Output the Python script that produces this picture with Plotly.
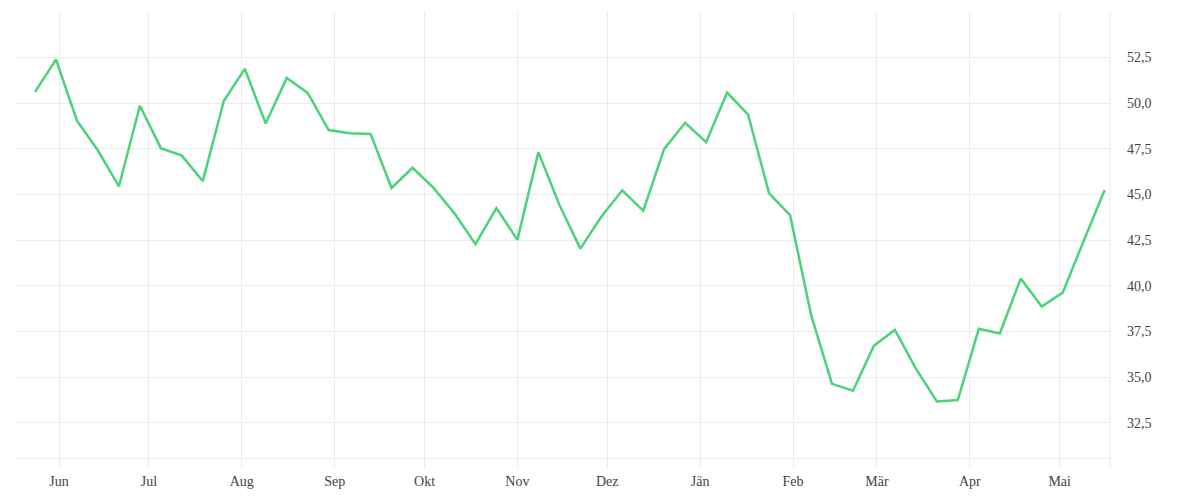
import pandas as pd
import plotly.graph_objects as go

# weekly values, late May to mid May of the following year
dates = pd.date_range("2022-05-24", periods=52, freq="7D")
values = [50.62, 52.39, 49.04, 47.41, 45.45, 49.86, 47.54, 47.13, 45.73, 50.12,
          51.88, 48.89, 51.38, 50.56, 48.53, 48.36, 48.31, 45.36, 46.46, 45.36,
          43.97, 42.28, 44.26, 42.52, 47.32, 44.44, 42.04, 43.78, 45.23, 44.11,
          47.50, 48.93, 47.87, 50.58, 49.37, 45.07, 43.87, 38.43, 34.64, 34.26,
          36.73, 37.59, 35.47, 33.67, 33.75, 37.65, 37.39, 40.40, 38.87, 39.63,
          42.46, 45.25]

# month ticks (Austrian German)
month_ticks = pd.date_range("2022-06-01", periods=12, freq="MS")
month_labels = ["Jun", "Jul", "Aug", "Sep", "Okt", "Nov", "Dez", "Jän",
                "Feb", "Mär", "Apr", "Mai"]

grid = "#ececec"

fig = go.Figure()
fig.add_trace(go.Scatter(x=dates, y=values, mode="lines",
                         line=dict(color="#4cd27b", width=2.5),
                         hoverinfo="x+y"))

fig.update_layout(
    margin=dict(l=7, r=82, t=4, b=34),
    paper_bgcolor="white", plot_bgcolor="white",
    separators=",.",
    showlegend=False,
    font=dict(family="Liberation Serif", size=14, color="#444"),
    shapes=[dict(type="line", xref="paper", yref="paper", x0=1, x1=1,
                 y0=-0.023, y1=1, line=dict(color=grid, width=1))],
)
fig.update_xaxes(
    range=["2022-05-17 07:30", "2023-05-17 19:00"],
    tickvals=month_ticks, ticktext=month_labels,
    showgrid=True, gridcolor=grid, gridwidth=1,
    ticks="outside", ticklen=10, tickcolor=grid, tickwidth=1,
    showline=True, linecolor=grid, linewidth=1,
    zeroline=False,
)
fig.update_yaxes(
    range=[30.58, 54.99], side="right",
    dtick=2.5, tick0=0, tickformat=".1f",
    showgrid=True, gridcolor=grid, gridwidth=1,
    ticks="", ticklabelstandoff=16,
    zeroline=False, showline=False,
)

fig.write_html("out.html")
